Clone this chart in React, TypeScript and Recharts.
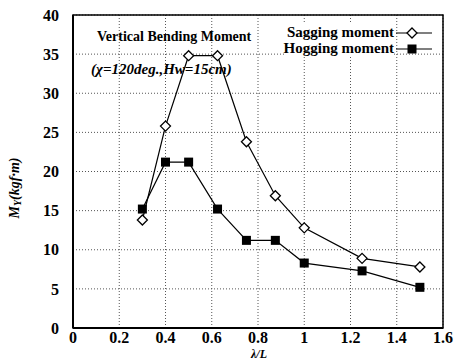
import React from 'react';
import { LineChart, Line, XAxis, YAxis, CartesianGrid, ReferenceArea } from 'recharts';

const lambdaL = [0.3, 0.4, 0.5, 0.625, 0.75, 0.875, 1.0, 1.25, 1.5];
const sagging = [13.8, 25.8, 34.8, 34.8, 23.8, 16.9, 12.8, 8.9, 7.8];
const hogging = [15.2, 21.2, 21.2, 15.2, 11.2, 11.2, 8.3, 7.3, 5.2];
const xTicks = [0, 0.2, 0.4, 0.6, 0.8, 1, 1.2, 1.4, 1.6];
const yTicks = [0, 5, 10, 15, 20, 25, 30, 35, 40];

const data = lambdaL.map((x, i) => ({ x, sag: sagging[i], hog: hogging[i] }));

const FONT = '"Liberation Serif", "DejaVu Serif", "Times New Roman", serif';

const Diamond = (props: any) => {
  const { cx, cy } = props;
  if (cx == null || cy == null) return null;
  const r = 5;
  return (
    <path
      d={`M${cx},${cy - r}L${cx + r},${cy}L${cx},${cy + r}L${cx - r},${cy}Z`}
      fill="#fff"
      stroke="#000"
      strokeWidth={1.3}
    />
  );
};

const Square = (props: any) => {
  const { cx, cy } = props;
  if (cx == null || cy == null) return null;
  const s = 4.5;
  return <rect x={cx - s} y={cy - s} width={2 * s} height={2 * s} fill="#000" />;
};

const fmtX = (v: number) => String(v);

const YLabel = () => {
  const cx = 14;
  const cy = 188;
  return (
    <text
      x={cx}
      y={cy}
      transform={`rotate(-90 ${cx} ${cy})`}
      textAnchor="middle"
      dominantBaseline="central"
      style={{ fontFamily: FONT, fontStyle: 'italic', fontWeight: 'bold', fontSize: 14 }}
      fill="#000"
    >
      M<tspan fontSize={10} dy={3}>Y</tspan>
      <tspan dy={-3}>(kgf·m)</tspan>
    </text>
  );
};

const tickStyle = { fill: '#000', fontFamily: FONT, fontSize: 16, fontWeight: 'bold' } as any;

export default function App() {
  return (
    <div style={{ position: 'absolute', left: 0, top: 0, width: 454, height: 361, background: '#fff', overflow: 'hidden', fontFamily: FONT }}>
      <LineChart width={454} height={361} data={data} margin={{ top: 15, right: 11, bottom: 0, left: 0 }} style={{ fontFamily: FONT }}>
        <CartesianGrid stroke="#555" strokeDasharray="1 2" strokeWidth={1} />
        <XAxis
          dataKey="x"
          type="number"
          domain={[0, 1.6]}
          ticks={xTicks}
          tickFormatter={fmtX}
          height={33}
          axisLine={{ stroke: '#000', strokeWidth: 2 }}
          tickLine={false}
          tickSize={0}
          tick={tickStyle}
          tickMargin={4}
        />
        <YAxis
          type="number"
          domain={[0, 40]}
          ticks={yTicks}
          width={73}
          axisLine={{ stroke: '#000', strokeWidth: 2 }}
          tickLine={false}
          tick={tickStyle}
          tickMargin={8}
          label={<YLabel />}
        />
        <ReferenceArea x1={0} x2={1.6} y1={0} y2={40} fill="none" stroke="#000" strokeWidth={1.5} ifOverflow="visible" />
        <Line dataKey="hog" stroke="#000" strokeWidth={1.2} dot={<Square />} isAnimationActive={false} />
        <Line dataKey="sag" stroke="#000" strokeWidth={1.2} dot={<Diamond />} isAnimationActive={false} />
      </LineChart>
      <div style={{ position: 'absolute', left: 97, top: 29, fontFamily: FONT, fontSize: 14, fontWeight: 'bold', whiteSpace: 'nowrap' }}>
        Vertical Bending Moment
      </div>
      <div style={{ position: 'absolute', left: 91, top: 61, fontFamily: FONT, fontSize: 15, fontWeight: 'bold', fontStyle: 'italic', whiteSpace: 'nowrap' }}>
        (χ=120deg.,Hw=15cm)
      </div>
      <div style={{ position: 'absolute', right: 60, top: 24, fontFamily: FONT, fontSize: 15, fontWeight: 'bold', whiteSpace: 'nowrap', textAlign: 'right', lineHeight: '16px', background: '#fff' }}>
        <div>Sagging moment</div>
        <div>Hogging moment</div>
      </div>
      <svg style={{ position: 'absolute', left: 396, top: 24 }} width={40} height={34}>
        <line x1={0} y1={9} x2={36} y2={9} stroke="#000" strokeWidth={1.2} />
        <path d="M16,4L21,9L16,14L11,9Z" fill="#fff" stroke="#000" strokeWidth={1.3} />
        <line x1={0} y1={25} x2={36} y2={25} stroke="#000" strokeWidth={1.2} />
        <rect x={11.5} y={20.5} width={9} height={9} fill="#000" />
      </svg>
      <div style={{ position: 'absolute', left: 251, top: 348, fontFamily: FONT, fontSize: 12, lineHeight: '12px', fontWeight: 'bold', fontStyle: 'italic', whiteSpace: 'nowrap' }}>
        λ/L
      </div>
    </div>
  );
}
